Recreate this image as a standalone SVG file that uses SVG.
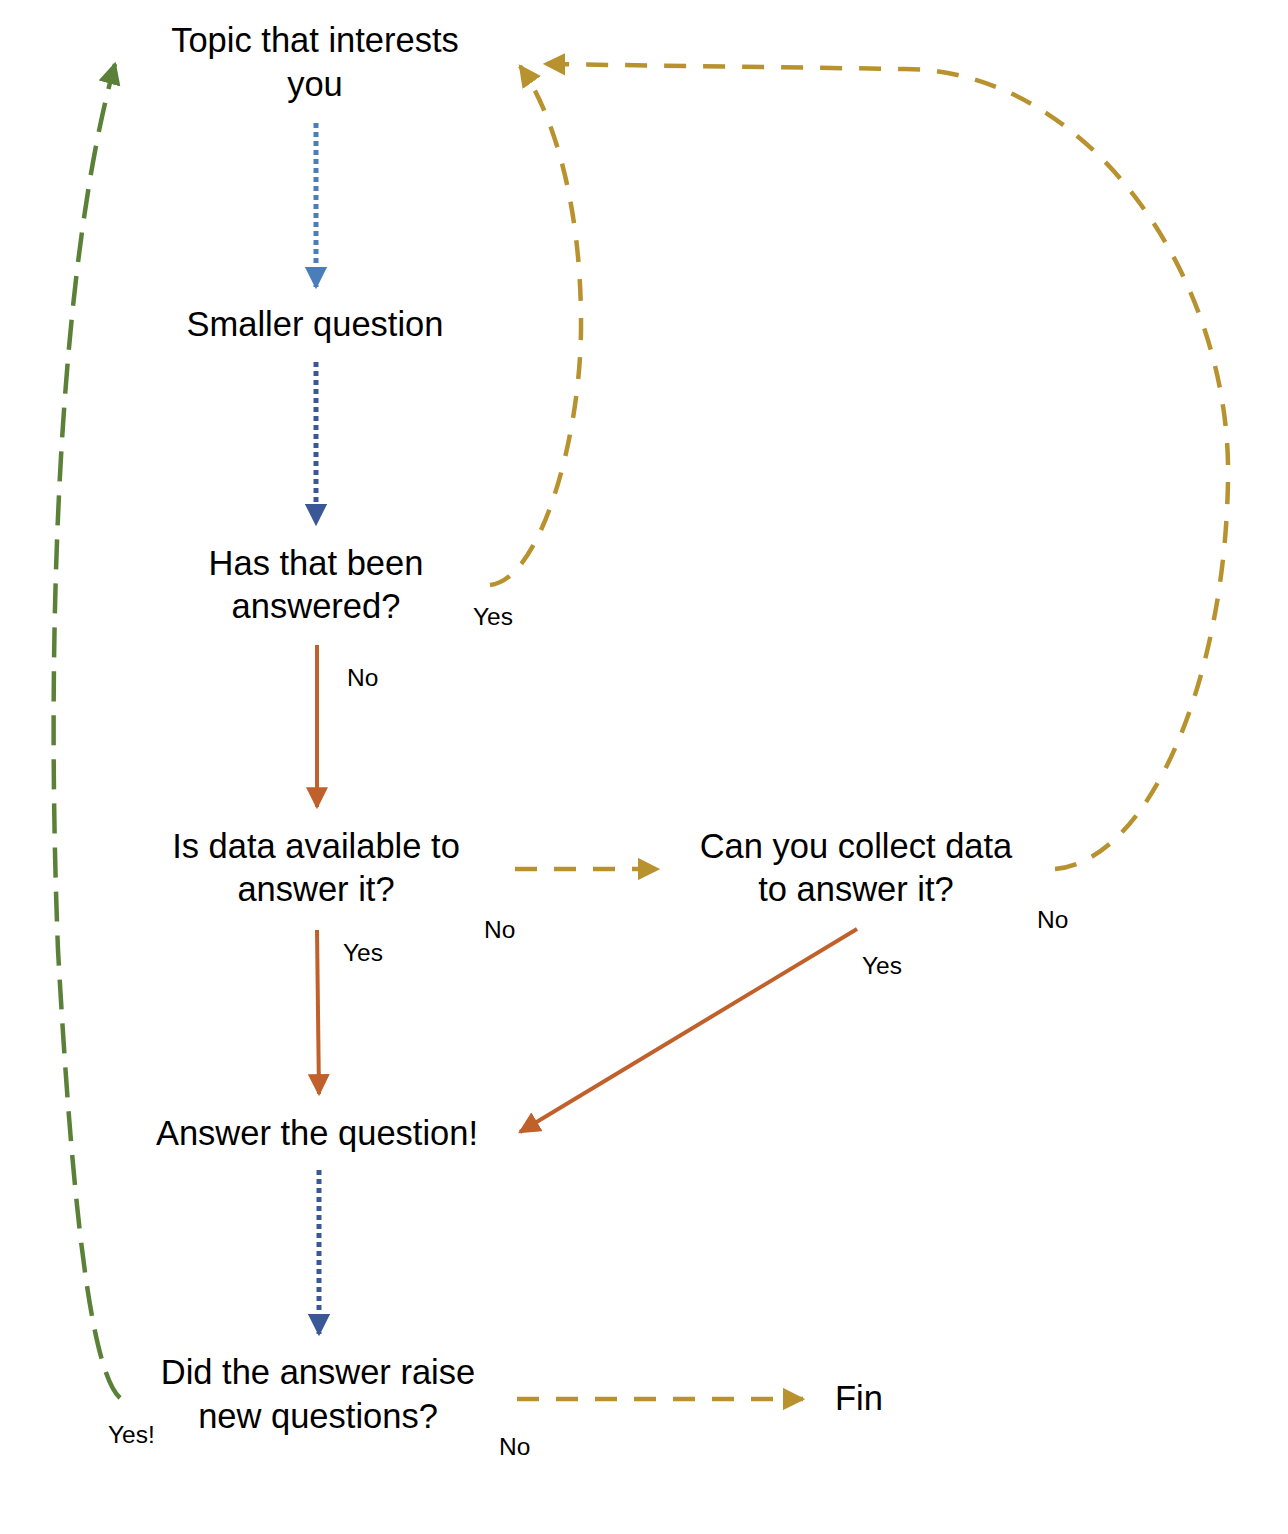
<svg xmlns="http://www.w3.org/2000/svg" width="1288" height="1534" viewBox="0 0 1288 1534">
<style>
.t{font-family:"Liberation Sans",Arial,sans-serif;font-size:34.5px;fill:#000;text-anchor:middle}
.s{font-family:"Liberation Sans",Arial,sans-serif;font-size:24.5px;fill:#000}
.gold{fill:none;stroke:#B8922F;stroke-width:4.5;stroke-dasharray:22 17}
.green{fill:none;stroke:#5B8139;stroke-width:4.5;stroke-dasharray:30 14}
.org{fill:none;stroke:#C0602A;stroke-width:4}
.blue1{fill:none;stroke:#4A7EBB;stroke-width:5;stroke-dasharray:5 4}
.blue2{fill:none;stroke:#3A5797;stroke-width:5;stroke-dasharray:5 4}
</style>
<defs>
<marker id="aGold" viewBox="0 0 10 10" refX="9" refY="5" markerWidth="5" markerHeight="5" markerUnits="strokeWidth" orient="auto"><path d="M0,0 L10,5 L0,10 z" fill="#B8922F"/></marker>
<marker id="aGreen" viewBox="0 0 10 10" refX="9" refY="5" markerWidth="5" markerHeight="5" markerUnits="strokeWidth" orient="auto"><path d="M0,0 L10,5 L0,10 z" fill="#5B8139"/></marker>
<marker id="aOrg" viewBox="0 0 10 10" refX="9" refY="5" markerWidth="5.5" markerHeight="5.5" markerUnits="strokeWidth" orient="auto"><path d="M0,0 L10,5 L0,10 z" fill="#C0602A"/></marker>
<marker id="aBlue1" viewBox="0 0 10 10" refX="9" refY="5" markerWidth="4.5" markerHeight="4.5" markerUnits="strokeWidth" orient="auto"><path d="M0,0 L10,5 L0,10 z" fill="#4A7EBB"/></marker>
<marker id="aBlue2" viewBox="0 0 10 10" refX="9" refY="5" markerWidth="4.5" markerHeight="4.5" markerUnits="strokeWidth" orient="auto"><path d="M0,0 L10,5 L0,10 z" fill="#3A5797"/></marker>
</defs>
<rect width="1288" height="1534" fill="#fff"/>
<g id="connectors">
<path class="blue1" d="M316,123 L316,287" marker-end="url(#aBlue1)"/>
<path class="blue2" d="M316,362 L316,524" marker-end="url(#aBlue2)"/>
<path class="org" d="M317,645 L317,807" marker-end="url(#aOrg)"/>
<path class="org" d="M317,930 L319,1094" marker-end="url(#aOrg)"/>
<path class="org" d="M857,929 L520,1132" marker-end="url(#aOrg)"/>
<path class="blue2" d="M319,1170 L319,1334" marker-end="url(#aBlue2)"/>
<path class="gold" d="M515,869 L658,869" marker-end="url(#aGold)"/>
<path class="gold" d="M517,1399 L803,1399" marker-end="url(#aGold)"/>
<path class="gold" d="M490,585 C540,580 580,440 581,330 C582,210 555,115 520,66" marker-end="url(#aGold)"/>
<path class="gold" d="M1055,869 C1150,860 1225,680 1228,480 C1232,280 1090,70 905,69 L545,64" marker-end="url(#aGold)"/>
<path class="green" d="M120,1398 C90,1370 72,1200 58,950 C45,620 60,260 115,64" marker-end="url(#aGreen)"/>
</g>
<g id="n-topic"><text class="t" x="315" y="52">Topic that interests</text><text class="t" x="315" y="96">you</text></g>
<g id="n-smaller"><text class="t" x="315" y="336">Smaller question</text></g>
<g id="n-answered"><text class="t" x="316" y="575">Has that been</text><text class="t" x="316" y="618">answered?</text></g>
<g id="n-available"><text class="t" x="316" y="858">Is data available to</text><text class="t" x="316" y="901">answer it?</text></g>
<g id="n-collect"><text class="t" x="856" y="858">Can you collect data</text><text class="t" x="856" y="901">to answer it?</text></g>
<g id="n-answer"><text class="t" x="317" y="1145">Answer the question!</text></g>
<g id="n-raise"><text class="t" x="318" y="1384">Did the answer raise</text><text class="t" x="318" y="1428">new questions?</text></g>
<g id="n-fin"><text class="t" x="835" y="1410" style="text-anchor:start">Fin</text></g>
<g id="labels">
<text class="s" x="473" y="625">Yes</text>
<text class="s" x="347" y="686">No</text>
<text class="s" x="343" y="961">Yes</text>
<text class="s" x="484" y="938">No</text>
<text class="s" x="862" y="974">Yes</text>
<text class="s" x="1037" y="928">No</text>
<text class="s" x="108" y="1443">Yes!</text>
<text class="s" x="499" y="1455">No</text>
</g>
</svg>
